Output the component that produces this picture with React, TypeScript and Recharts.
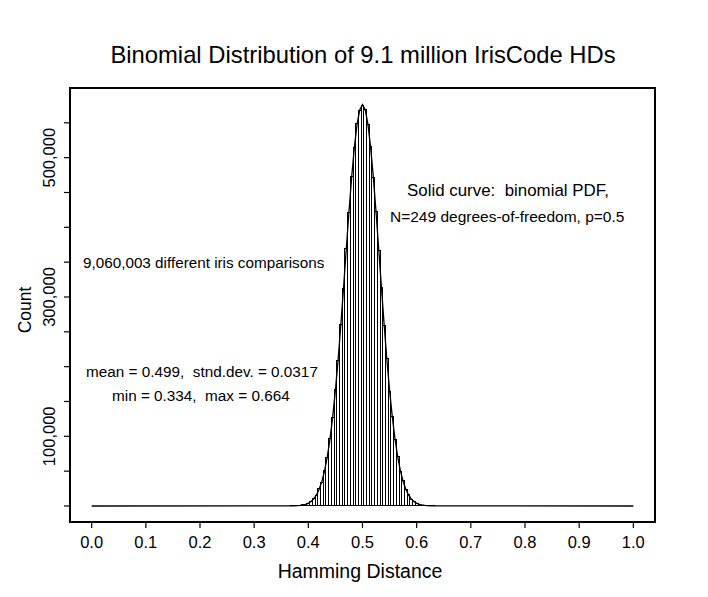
import React from 'react';
import {
  ComposedChart,
  Bar,
  Line,
  XAxis,
  YAxis,
  ReferenceArea,
} from 'recharts';

// histogram bin centres (Hamming distance) and counts
const hdBins = [
  0.37, 0.375, 0.38, 0.385, 0.39, 0.395, 0.4, 0.405, 0.41, 0.415,
  0.42, 0.425, 0.43, 0.435, 0.44, 0.445, 0.45, 0.455, 0.46, 0.465,
  0.47, 0.475, 0.48, 0.485, 0.49, 0.495, 0.5, 0.505, 0.51, 0.515,
  0.52, 0.525, 0.53, 0.535, 0.54, 0.545, 0.55, 0.555, 0.56, 0.565,
  0.57, 0.575, 0.58, 0.585, 0.59, 0.595, 0.6, 0.605, 0.61, 0.615,
  0.62, 0.625, 0.63,
];

const binCounts = [
  150, 240, 520, 760, 1500, 2300, 4200, 6300, 10600, 15200,
  24500, 34300, 51200, 69600, 97000, 127000, 167200, 209400, 261000, 312000,
  369200, 421000, 473100, 514000, 549000, 568000, 575000, 569500, 547000, 516200,
  471000, 423100, 367000, 314300, 258800, 211400, 165000, 128800, 95200, 71300,
  49500, 35900, 23200, 16400, 9800, 6700, 3800, 2500, 1300, 850,
  430, 260, 120,
];

// solid curve (binomial PDF scaled to counts) at the same bin centres
const pdfCounts = [
  130, 240, 450, 800, 1400, 2390, 3980, 6470, 10200, 15800,
  23900, 35100, 50300, 70400, 96100, 127900, 166000, 210300, 259800, 313200,
  368100, 422000, 472000, 515000, 548100, 568900, 576000, 568900, 548100, 515000,
  472000, 422000, 368100, 313200, 259800, 210300, 166000, 127900, 96100, 70400,
  50300, 35100, 23900, 15800, 10200, 6470, 3980, 2390, 1400, 800,
  450, 240, 130,
];

const xTicks = [0, 0.1, 0.2, 0.3, 0.4, 0.5, 0.6, 0.7, 0.8, 0.9, 1.0];
const yTicks = [0, 50000, 100000, 150000, 200000, 250000, 300000, 350000, 400000, 450000, 500000, 550000];
const yLabelled = [100000, 300000, 500000];

const chartData = [
  { hd: 0, count: null, pdf: 0 },
  ...hdBins.map((hd, i) => ({ hd, count: binCounts[i], pdf: pdfCounts[i] })),
  { hd: 1, count: null, pdf: 0 },
];

const FONT = '"Liberation Sans", Arial, Helvetica, sans-serif';

const XTick = (props: any) => {
  const { x, payload } = props;
  return (
    <text x={x} y={548} textAnchor="middle" fontSize={16.5} fontFamily={FONT} fill="#000">
      {Number(payload.value).toFixed(1)}
    </text>
  );
};

const YTick = (props: any) => {
  const { y, payload } = props;
  if (!yLabelled.includes(payload.value)) return <g />;
  return (
    <text
      x={55}
      y={y}
      transform={`rotate(-90, 55, ${y})`}
      textAnchor="middle"
      fontSize={16.5}
      fontFamily={FONT}
      fill="#000"
    >
      {payload.value.toLocaleString('en-US')}
    </text>
  );
};

export default function App() {
  return (
    <div style={{ position: 'absolute', left: 0, top: 0, background: '#fff' }}>
      <ComposedChart
        width={708}
        height={597}
        data={chartData}
        margin={{ top: 88, right: 53, bottom: 0, left: 0 }}
        barGap={0}
      >
        <XAxis
          dataKey="hd"
          type="number"
          domain={[-0.04, 1.04]}
          ticks={xTicks}
          allowDataOverflow
          axisLine={false}
          tickLine={{ stroke: '#000', strokeWidth: 1.2 }}
          tickSize={6}
          height={75}
          tick={<XTick />}
        />
        <YAxis
          type="number"
          domain={[-23000, 600000]}
          ticks={yTicks}
          allowDataOverflow
          axisLine={false}
          tickLine={{ stroke: '#000', strokeWidth: 1.2 }}
          tickSize={6}
          width={70}
          tick={<YTick />}
        />
        <ReferenceArea
          x1={-0.04}
          x2={1.04}
          y1={-23000}
          y2={600000}
          fill="none"
          stroke="#000"
          strokeWidth={2}
          ifOverflow="visible"
        />
        <Bar
          dataKey="count"
          barSize={2.7}
          fill="#fff"
          stroke="#000"
          strokeWidth={1}
          shapeRendering="crispEdges"
          isAnimationActive={false}
        />
        <Line
          dataKey="pdf"
          type="linear"
          stroke="#000"
          strokeWidth={1.3}
          dot={false}
          activeDot={false}
          isAnimationActive={false}
        />
        <text x={363} y={63} textAnchor="middle" fontSize={23.8} fontFamily={FONT} fill="#000">
          Binomial Distribution of 9.1 million IrisCode HDs
        </text>
        <text x={360} y={578} textAnchor="middle" fontSize={19.5} fontFamily={FONT} fill="#000">
          Hamming Distance
        </text>
        <text
          x={31}
          y={310}
          transform="rotate(-90, 31, 310)"
          textAnchor="middle"
          fontSize={17.5}
          fontFamily={FONT}
          fill="#000"
        >
          Count
        </text>
        <text x={407} y={196} fontSize={16.9} fontFamily={FONT} fill="#000" style={{ whiteSpace: 'pre' }}>
          {'Solid curve:  binomial PDF,'}
        </text>
        <text x={390} y={222} fontSize={15.5} fontFamily={FONT} fill="#000">
          N=249 degrees-of-freedom, p=0.5
        </text>
        <text x={83} y={268} fontSize={15.25} fontFamily={FONT} fill="#000">
          9,060,003 different iris comparisons
        </text>
        <text x={86} y={377} fontSize={15.3} fontFamily={FONT} fill="#000" style={{ whiteSpace: 'pre' }}>
          {'mean = 0.499,  stnd.dev. = 0.0317'}
        </text>
        <text x={112} y={401} fontSize={15.3} fontFamily={FONT} fill="#000" style={{ whiteSpace: 'pre' }}>
          {'min = 0.334,  max = 0.664'}
        </text>
      </ComposedChart>
    </div>
  );
}
